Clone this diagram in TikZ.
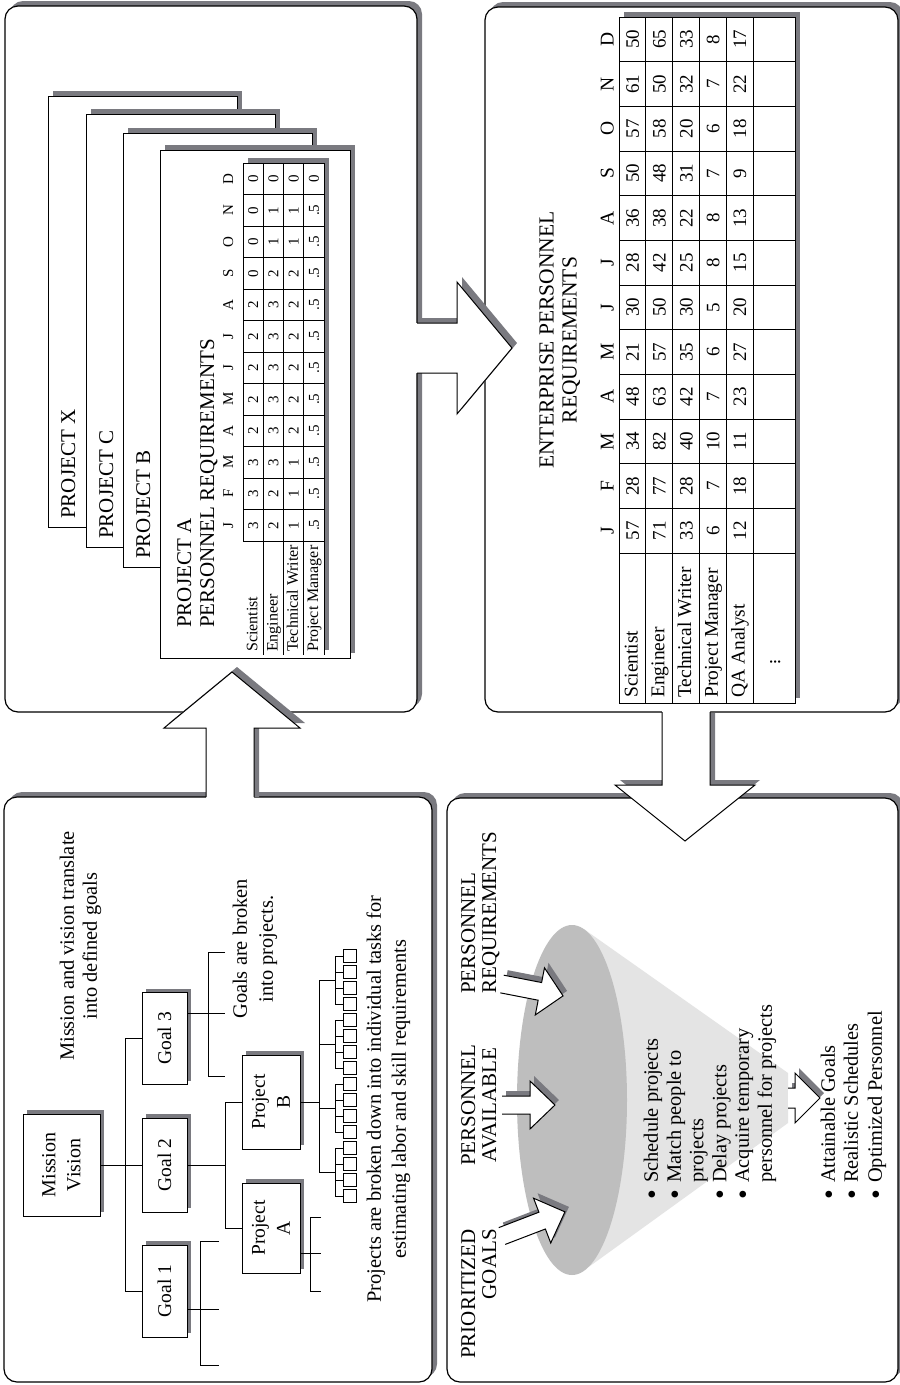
\documentclass[tikz,border=0pt]{standalone}
\usepackage{fontspec}
\setmainfont{Liberation Serif}
\definecolor{shgray}{RGB}{122,122,128}
\definecolor{conedark}{RGB}{190,190,190}
\definecolor{conelight}{RGB}{228,228,228}
\newcommand\fTitle{\fontsize{21}{23}\selectfont}
\newcommand\fBody{\fontsize{20.4}{24}\selectfont}
\newcommand\fSmall{\fontsize{15}{16}\selectfont}
\newcommand\fLab{\fontsize{16}{17}\selectfont}
\newcommand\fEnt{\fontsize{19.5}{21}\selectfont}
\newcommand\fNum{\fontsize{19}{21}\selectfont}
\newcommand\fGoal{\fontsize{19.5}{25}\selectfont}
\newcommand\fBul{\fontsize{28}{28}\selectfont}
\newcommand\blockarr[5]{%
  \begin{scope}[shift={(#1+4,#2-5)},rotate=#3]
    \fill[shgray] (0,-9) -- (#4,-9) -- (#4,-24) -- (#5,0) -- (#4,24) -- (#4,9) -- (0,9) -- cycle;
  \end{scope}
  \begin{scope}[shift={(#1,#2)},rotate=#3]
    \fill[white] (0,-9) -- (#4,-9) -- (#4,-24) -- (#5,0) -- (#4,24) -- (#4,9) -- (0,9) -- cycle;
    \draw[aline] (0,-9) -- (#4,-9) -- (#4,-24) -- (#5,0) -- (#4,24) -- (#4,9) -- (0,9);
  \end{scope}}
\begin{document}
\begin{tikzpicture}[x=1pt,y=-1pt,
  sh/.style={preaction={fill=shgray,draw=none,transform canvas={shift={(#1pt,#1pt)}}}},
  sh/.default=5,
  panel/.style={draw=black,line width=1.2pt,fill=white,rounded corners=13pt},
  card/.style={draw=black,line width=1pt,fill=white},
  grid/.style={draw=black,line width=1pt},
  conn/.style={draw=black,line width=1pt},
  aline/.style={draw=black,line width=1pt,line join=miter},
  rt/.style={rotate=90,inner sep=0pt,text depth=0pt},
  tT/.style={rt,font=\fTitle,text height=14pt},
  tS/.style={rt,font=\fSmall,text height=10.2pt},
  tL/.style={rt,font=\fLab,text height=10.8pt},
  tE/.style={rt,font=\fEnt,text height=13pt},
  tN/.style={rt,font=\fNum,text height=13pt},
  tB/.style={rt,font=\fBody,text height=13.5pt},
  bul/.style={rt,font=\fBul,text height=18.5pt},
  obox/.style={draw=black,line width=1pt,fill=white,rotate=90,inner sep=0pt,align=center,sh=4},
  task/.style={draw=black,line width=0.9pt,fill=white,minimum size=13pt,inner sep=0pt},
]
\useasboundingbox (0,0) rectangle (900,1385);

% ---------- panels
\draw[panel,sh] (5,6) rectangle (417,712);
\draw[panel,sh] (485,7) rectangle (898,712);
\draw[panel,sh] (4,797) rectangle (432,1382);
\draw[panel,sh] (447,798) rectangle (898,1382);

% ---------- project cards
\draw[card,sh] (48,96) rectangle (237,527);
\draw[card,sh] (86,114) rectangle (275,547);
\draw[card,sh] (123,133) rectangle (312,567);
\draw[card,sh] (160,150) rectangle (350,658);
\node[tT,anchor=west] (lx) at (68,519) {PROJECT X};
\node[tT,anchor=west] (lc) at (106,539) {PROJECT C};
\node[tT,anchor=west] (lb) at (143,559) {PROJECT B};
\node[tT,anchor=west] (la) at (184,628) {PROJECT A};
\node[tT,anchor=west] (lr) at (207,628) {PERSONNEL REQUIREMENTS};

% project A table
\fill[shgray] (248,158) rectangle (329,650);
\fill[white] (243,163) rectangle (324,655);
\draw[grid] (243,541) -- (243,163) -- (324,163);
\foreach \r in {1,2,3,4} \draw[grid] (243+20.25*\r,163) -- (243+20.25*\r,655);
\foreach \j in {0,...,11} \draw[grid] (243,541-31.5*\j) -- (324,541-31.5*\j);
\foreach \m [count=\j from 0] in {J,F,M,A,M,J,J,A,S,O,N,D}
  \node[tS] (pm\j) at (228,525.25-31.5*\j) {\m};
\foreach \row [count=\r from 0] in {{3,3,3,2,2,2,2,2,0,0,0,0},{2,2,3,3,3,3,3,3,2,1,1,0},{1,1,1,2,2,2,2,2,2,1,1,0},{.5,.5,.5,.5,.5,.5,.5,.5,.5,.5,.5,0}} {
  \foreach \v [count=\j from 0] in \row
    \node[tS] (a\r-\j) at (253.1+20.25*\r,525.25-31.5*\j) {\v};
}
\foreach \l [count=\r from 0] in {Scientist,Engineer,Technical Writer,Project Manager}
  \node[tL,anchor=west] (al\r) at (252+20.25*\r,652) {\l};

% ---------- enterprise table
\fill[shgray] (624,12) rectangle (800,698);
\draw[grid,fill=white] (619,17) rectangle (795,703);
\foreach \r in {1,...,5} \draw[grid] (619+26.8*\r,17) -- (619+26.8*\r,703);
\foreach \j in {0,...,11} \draw[grid] (619,553-44.667*\j) -- (795,553-44.667*\j);
\foreach \m [count=\j from 0] in {J,F,M,A,M,J,J,A,S,O,N,D}
  \node[tE] (em\j) at (607,530.67-44.667*\j) {\m};
\foreach \row [count=\r from 0] in {{57,28,34,48,21,30,28,36,50,57,61,50},{71,77,82,63,57,50,42,38,48,58,50,65},{33,28,40,42,35,30,25,22,31,20,32,33},{6,7,10,7,6,5,8,8,7,6,7,8},{12,18,11,23,27,20,15,13,9,18,22,17}} {
  \foreach \v [count=\j from 0] in \row
    \node[tN] (e\r-\j) at (632.4+26.8*\r,530.67-44.667*\j) {\v};
}
\foreach \l [count=\r from 0] in {Scientist,Engineer,Technical Writer,Project Manager,QA Analyst}
  \node[tE,anchor=west] (el\r) at (631+26.8*\r,698) {\l};
\node[rt,font=\fEnt] (edots) at (772,662) {$\vdots$};
\node[rt,align=center,font=\fontsize{21.5}{23}\selectfont] (etitle) at (558,340) {ENTERPRISE PERSONNEL\\REQUIREMENTS};

% ---------- big arrows
\fill[shgray] (211,797) -- (211,723) -- (169,723) -- (237,667) -- (305,723) -- (259,723) -- (259,797) -- cycle;
\fill[white] (206,798.5) -- (206,728) -- (164,728) -- (232,672) -- (300,728) -- (254,728) -- (254,798.5) -- cycle;
\draw[aline] (206,797) -- (206,728) -- (164,728) -- (232,672) -- (300,728) -- (254,728) -- (254,797);

\fill[shgray] (418,318) -- (462,318) -- (462,277) -- (517,343) -- (462,409) -- (462,368) -- (418,368) -- cycle;
\fill[white] (415.5,323) -- (457,323) -- (457,282) -- (512,348) -- (457,414) -- (457,373) -- (415.5,373) -- cycle;
\draw[aline] (417,323) -- (457,323) -- (457,282) -- (512,348) -- (457,414) -- (457,373) -- (417,373);

\fill[shgray] (667,713) -- (667,780) -- (620,780) -- (690,836) -- (760,780) -- (715,780) -- (715,713) -- cycle;
\fill[white] (662,710.5) -- (662,785) -- (615,785) -- (685,841) -- (755,785) -- (710,785) -- (710,710.5) -- cycle;
\draw[aline] (662,712) -- (662,785) -- (615,785) -- (685,841) -- (755,785) -- (710,785) -- (710,712);

% ---------- org chart
\node[obox,font=\fontsize{20}{25}\selectfont,minimum width=102pt,minimum height=77pt] (mv) at (61.5,1165) {Mission\\Vision};
\node[obox,font=\fGoal,minimum width=92pt,minimum height=45pt] (g1) at (164.5,1291) {Goal 1};
\node[obox,font=\fGoal,minimum width=94pt,minimum height=45pt] (g2) at (164.5,1165) {Goal 2};
\node[obox,font=\fGoal,minimum width=92pt,minimum height=45pt] (g3) at (164.5,1038.5) {Goal 3};
\node[obox,font=\fGoal,minimum width=90pt,minimum height=58pt] (pja) at (271,1228) {Project\\A};
\node[obox,font=\fGoal,minimum width=94pt,minimum height=58pt] (pjb) at (271,1102) {Project\\B};

\coordinate (bus1) at (125,1165);
\coordinate (bus2) at (225,1165);
\coordinate (bus3) at (319,1102);
\draw[conn] (mv.south) -- (g2.north);
\draw[conn] (g3.north -| bus1) -- (g1.north -| bus1);
\draw[conn] (g3.north -| bus1) -- (g3.north);
\draw[conn] (g1.north -| bus1) -- (g1.north);
\draw[conn] (g2.south) -- (g2.south -| bus2);
\draw[conn] (pjb.north -| bus2) -- (pja.north -| bus2);
\draw[conn] (pjb.north -| bus2) -- (pjb.north);
\draw[conn] (pja.north -| bus2) -- (pja.north);

% goal 3 bracket
\coordinate (g3b) at (208,1013);
\coordinate (g3t) at (225,952);
\coordinate (g3m) at (225,1013);
\coordinate (g3e) at (225,1076);
\draw[conn] (g3.south |- g3b) -- (g3m);
\draw[conn] (g3t) -- (g3t -| g3b) -- (g3e -| g3b) -- (g3e);
% goal 1 bracket
\coordinate (g1b) at (200,1309);
\coordinate (g1t) at (219,1241);
\coordinate (g1m) at (219,1309);
\coordinate (g1e) at (219,1365);
\draw[conn] (g1.south |- g1b) -- (g1m);
\draw[conn] (g1t) -- (g1t -| g1b) -- (g1e -| g1b) -- (g1e);
% project A bracket
\coordinate (pab) at (310,1253);
\coordinate (pat) at (321,1217);
\coordinate (pam) at (321,1253);
\coordinate (pae) at (321,1291);
\draw[conn] (pja.south |- pab) -- (pam);
\draw[conn] (pat) -- (pat -| pab) -- (pae -| pab) -- (pae);

% project B task tree
\foreach \k in {0,...,15}
  \node[task] (t\k) at (349.5,956+16*\k) {};
\draw[conn] (pjb.south) -- (bus3);
\draw[conn] (319,980) -- (319,1172);
\foreach \g in {0,1,2,3} {
  \draw[conn] (319,980+64*\g) -- (335,980+64*\g);
  \draw[conn] (335,956+64*\g) -- (335,1004+64*\g);
}
\foreach \k in {0,...,15}
  \draw[conn] (t\k.west) -- ++(-8,0);

\node[tB] (m1) at (67,946) {Mission and vision translate};
\node[tB] (m2) at (90,946) {into defined goals};
\node[tB] (gb1) at (240,949) {Goals are broken};
\node[tB] (gb2) at (266,949) {into projects.};
\node[tB] (pb1) at (374,1099) {Projects are broken down into individual tasks for};
\node[tB] (pb2) at (399,1099) {estimating labor and skill requirements};

% ---------- funnel
\fill[conelight] (583.9,929.1) -- (788,1073) -- (788,1123) -- (587.8,1267.6) -- (572,1100) -- cycle;
\fill[conedark] (572,1100) ellipse [x radius=55, y radius=175];

\fill[shgray] (792,1083) -- (799,1083) -- (799,1068) -- (824,1093) -- (799,1118) -- (799,1103) -- (792,1103) -- cycle;
\fill[white] (788,1088) -- (795,1088) -- (795,1073) -- (820,1098) -- (795,1123) -- (795,1108) -- (788,1108) -- cycle;
\draw[aline] (788,1088) -- (795,1088) -- (795,1073) -- (820,1098) -- (795,1123) -- (795,1108) -- (788,1108);

\blockarr{502}{984}{-11}{38.6}{62.2}
\blockarr{502}{1105}{0}{28}{53}
\blockarr{502}{1236}{21}{43}{67.4}

\node[tT,anchor=west] (tpr1) at (468,994) {PERSONNEL};
\node[tT,anchor=west] (tpr2) at (489,994) {REQUIREMENTS};
\node[tT] (tpa1) at (468,1105) {PERSONNEL};
\node[tT] (tpa2) at (489,1105) {AVAILABLE};
\node[tT,anchor=east] (tpg1) at (468,1229) {PRIORITIZED};
\node[tT,anchor=east] (tpg2) at (489,1229) {GOALS};

\foreach \t/\xx [count=\i] in {Schedule projects/651,Match people to/674,Delay projects/719.5,Acquire temporary/742,Attainable Goals/828,Realistic Schedules/851,Optimized Personnel/875} {
  \node[bul] (bu\i) at (\xx+1,1195) {\textbullet};
  \node[tB,anchor=west] (bt\i) at (\xx,1183) {\t};
}
\node[tB,anchor=west] (bt8) at (696.5,1183) {projects};
\node[tB,anchor=west] (bt9) at (765,1183) {personnel for projects};
\end{tikzpicture}
\end{document}
